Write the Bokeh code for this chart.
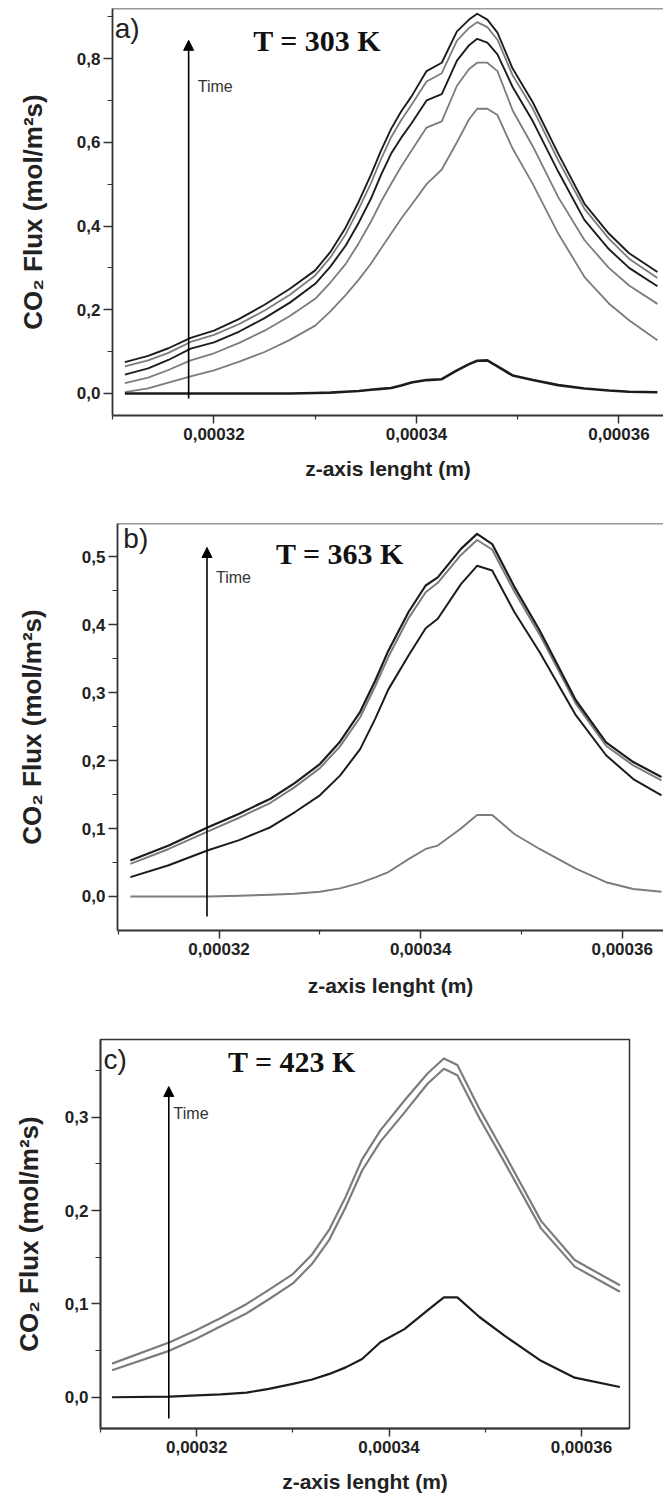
from bokeh.plotting import figure
from bokeh.models import FixedTicker, CustomJSTickFormatter, Range1d, Label, Arrow, NormalHead, Span
from bokeh.embed import file_html
from bokeh.resources import INLINE

# ---------------- data ----------------
# panel a, T = 303 K
A_Z = [3.112e-4, 3.135e-4, 3.155e-4, 3.177e-4, 3.200e-4, 3.225e-4, 3.250e-4, 3.275e-4,
       3.300e-4, 3.315e-4, 3.330e-4, 3.343e-4, 3.355e-4, 3.365e-4, 3.375e-4, 3.385e-4,
       3.395e-4, 3.410e-4, 3.425e-4, 3.440e-4, 3.452e-4, 3.460e-4, 3.470e-4, 3.480e-4,
       3.495e-4, 3.515e-4, 3.540e-4, 3.566e-4, 3.590e-4, 3.610e-4, 3.638e-4]
A_FLUX_1 = [0.075, 0.090, 0.108, 0.133, 0.150, 0.178, 0.212, 0.250, 0.294, 0.338, 0.396, 0.458,
            0.522, 0.580, 0.632, 0.674, 0.709, 0.770, 0.790, 0.865, 0.893, 0.907, 0.893, 0.862,
            0.776, 0.695, 0.573, 0.453, 0.382, 0.335, 0.290]
A_FLUX_2 = [0.065, 0.079, 0.097, 0.123, 0.140, 0.166, 0.198, 0.236, 0.282, 0.325, 0.380, 0.441,
            0.502, 0.560, 0.612, 0.653, 0.689, 0.745, 0.765, 0.843, 0.873, 0.887, 0.875, 0.845,
            0.760, 0.680, 0.557, 0.441, 0.370, 0.322, 0.276]
A_FLUX_3 = [0.045, 0.060, 0.080, 0.107, 0.122, 0.148, 0.180, 0.217, 0.262, 0.303, 0.353, 0.408,
            0.465, 0.522, 0.573, 0.611, 0.645, 0.700, 0.715, 0.795, 0.832, 0.847, 0.838, 0.810,
            0.732, 0.650, 0.530, 0.414, 0.345, 0.300, 0.256]
A_FLUX_4 = [0.025, 0.038, 0.056, 0.079, 0.096, 0.121, 0.150, 0.185, 0.226, 0.265, 0.309, 0.359,
            0.410, 0.458, 0.501, 0.542, 0.580, 0.635, 0.650, 0.735, 0.775, 0.790, 0.790, 0.770,
            0.676, 0.590, 0.469, 0.366, 0.300, 0.258, 0.214]
A_FLUX_5 = [0.003, 0.012, 0.026, 0.041, 0.055, 0.076, 0.099, 0.128, 0.162, 0.196, 0.235, 0.272,
            0.310, 0.346, 0.382, 0.418, 0.450, 0.500, 0.535, 0.600, 0.655, 0.680, 0.680, 0.665,
            0.585, 0.500, 0.382, 0.278, 0.215, 0.175, 0.127]
A_FLUX_6 = [0.0, 0.0, 0.0, 0.0, 0.0, 0.0, 0.0, 0.0, 0.001, 0.002, 0.004, 0.006,
            0.009, 0.011, 0.013, 0.019, 0.026, 0.032, 0.034, 0.055, 0.070, 0.078, 0.079, 0.065,
            0.043, 0.032, 0.020, 0.012, 0.007, 0.004, 0.003]

# panel b, T = 363 K
B_Z = [3.112e-4, 3.150e-4, 3.189e-4, 3.220e-4, 3.251e-4, 3.275e-4, 3.300e-4, 3.320e-4,
       3.340e-4, 3.355e-4, 3.368e-4, 3.388e-4, 3.405e-4, 3.417e-4, 3.440e-4, 3.456e-4,
       3.471e-4, 3.493e-4, 3.518e-4, 3.554e-4, 3.584e-4, 3.611e-4, 3.639e-4]
B_FLUX_1 = [0.053, 0.075, 0.102, 0.122, 0.144, 0.167, 0.195, 0.228, 0.272, 0.318, 0.362, 0.419,
            0.458, 0.470, 0.512, 0.534, 0.519, 0.456, 0.392, 0.289, 0.227, 0.198, 0.176]
B_FLUX_2 = [0.048, 0.070, 0.096, 0.116, 0.138, 0.161, 0.189, 0.221, 0.264, 0.310, 0.353, 0.410,
            0.448, 0.462, 0.503, 0.525, 0.511, 0.449, 0.386, 0.284, 0.222, 0.193, 0.171]
B_FLUX_3 = [0.0285, 0.046, 0.068, 0.083, 0.102, 0.124, 0.149, 0.178, 0.217, 0.262, 0.305, 0.355,
            0.395, 0.409, 0.460, 0.487, 0.480, 0.419, 0.360, 0.267, 0.208, 0.173, 0.149]
B_FLUX_4 = [0.0, 0.0, 0.0, 0.001, 0.0025, 0.004, 0.007, 0.012, 0.020, 0.028, 0.036, 0.055,
            0.070, 0.075, 0.100, 0.120, 0.120, 0.092, 0.070, 0.041, 0.021, 0.011, 0.007]

# panel c, T = 423 K
C_Z = [3.112e-4, 3.172e-4, 3.200e-4, 3.225e-4, 3.252e-4, 3.275e-4, 3.300e-4, 3.320e-4,
       3.338e-4, 3.355e-4, 3.372e-4, 3.391e-4, 3.416e-4, 3.440e-4, 3.457e-4, 3.471e-4,
       3.494e-4, 3.520e-4, 3.558e-4, 3.593e-4, 3.640e-4]
C_FLUX_1 = [0.036, 0.059, 0.072, 0.085, 0.100, 0.115, 0.132, 0.153, 0.180, 0.215, 0.255, 0.286,
            0.318, 0.347, 0.363, 0.356, 0.309, 0.261, 0.189, 0.147, 0.120]
C_FLUX_2 = [0.029, 0.050, 0.063, 0.076, 0.090, 0.105, 0.122, 0.143, 0.169, 0.204, 0.243, 0.274,
            0.305, 0.336, 0.352, 0.345, 0.299, 0.252, 0.181, 0.140, 0.113]
C_FLUX_3 = [0.0, 0.0007, 0.002, 0.003, 0.005, 0.009, 0.0143, 0.019, 0.025, 0.032, 0.041, 0.059,
            0.073, 0.093, 0.107, 0.107, 0.086, 0.066, 0.039, 0.021, 0.011]

X_TICKS = [0.00032, 0.00034, 0.00036]
X_MINOR = [0.00031, 0.00033, 0.00035]
A_YTICKS = [0.0, 0.2, 0.4, 0.6, 0.8]
A_YMINOR = [0.1, 0.3, 0.5, 0.7, 0.9]
B_YTICKS = [0.0, 0.1, 0.2, 0.3, 0.4, 0.5]
B_YMINOR = [0.05, 0.15, 0.25, 0.35, 0.45]
C_YTICKS = [0.0, 0.1, 0.2, 0.3]
C_YMINOR = [0.05, 0.15, 0.25, 0.35]

TITLES = ["T = 303 K", "T = 363 K", "T = 423 K"]
LETTERS = ["a)", "b)", "c)"]
X_LABEL = "z-axis lenght (m)"
Y_LABEL = "CO\u2082 Flux (mol/m\u00b2s)"

BLACK = "#1c1c1c"
GREY = "#7c7c7c"
AXC = "#333333"
SANS = "Liberation Sans"
SERIF = "Liberation Serif"
WIDTH = 663


def make_panel(height, borders, xr, yr, yticks, yminor, box, ylab_standoff, xlab_standoff):
    left, right, top, bottom = borders
    p = figure(width=WIDTH, height=height, output_backend="svg", toolbar_location=None,
               x_range=Range1d(*xr), y_range=Range1d(*yr),
               min_border_left=left, min_border_right=right,
               min_border_top=top, min_border_bottom=bottom)
    p.xgrid.visible = False
    p.ygrid.visible = False
    p.background_fill_color = "white"
    p.border_fill_color = "white"
    if box:
        p.outline_line_color = AXC
        p.outline_line_width = 1.5
    else:
        p.outline_line_color = None
        p.add_layout(Span(location=yr[1], dimension="width", line_color=AXC, line_width=1.5))
    for ax in (p.xaxis[0], p.yaxis[0]):
        ax.axis_line_color = AXC
        ax.axis_line_width = 1.8
        ax.major_tick_line_color = AXC
        ax.minor_tick_line_color = AXC
        ax.major_tick_line_width = 1.5
        ax.minor_tick_line_width = 1.2
        ax.major_tick_in = 0
        ax.minor_tick_in = 0
        ax.major_label_text_font = SANS
        ax.major_label_text_font_style = "bold"
        ax.major_label_text_font_size = "17px"
        ax.major_label_text_color = "#222222"
        ax.axis_label_text_font = SANS
        ax.axis_label_text_font_style = "bold"
        ax.axis_label_text_color = "#222222"
    xa = p.xaxis[0]
    xa.ticker = FixedTicker(ticks=X_TICKS, minor_ticks=X_MINOR)
    xa.formatter = CustomJSTickFormatter(code="return tick.toFixed(5).replace('.', ',');")
    xa.major_tick_out = 8
    xa.minor_tick_out = 4
    xa.major_label_standoff = 4
    xa.axis_label = X_LABEL
    xa.axis_label_text_font_size = "21px"
    xa.axis_label_standoff = xlab_standoff
    ya = p.yaxis[0]
    ya.ticker = FixedTicker(ticks=yticks, minor_ticks=yminor)
    ya.formatter = CustomJSTickFormatter(code="return tick.toFixed(1).replace('.', ',');")
    ya.major_tick_out = 9
    ya.minor_tick_out = 5
    ya.major_label_standoff = 3
    ya.axis_label = Y_LABEL
    ya.axis_label_text_font_size = "26px"
    ya.axis_label_standoff = ylab_standoff
    return p


def decorate(p, idx, letter_xy, title_xy, arrow, time_xy):
    p.add_layout(Label(x=letter_xy[0], y=letter_xy[1], text=LETTERS[idx], text_font=SANS,
                       text_font_size="28px", text_color="#222222",
                       text_align="left", text_baseline="middle"))
    p.add_layout(Label(x=title_xy[0], y=title_xy[1], text=TITLES[idx], text_font=SERIF,
                       text_font_style="bold", text_font_size="30px", text_color="#111111",
                       text_align="center", text_baseline="middle"))
    p.add_layout(Arrow(end=NormalHead(size=10, fill_color="black", line_color="black", line_width=1),
                       x_start=arrow[0], y_start=arrow[1], x_end=arrow[0], y_end=arrow[2],
                       line_color="black", line_width=1.6))
    p.add_layout(Label(x=time_xy[0], y=time_xy[1], text="Time", text_font=SANS,
                       text_font_size="16px", text_color="#333333",
                       text_align="left", text_baseline="middle"))


# panel a
pa = make_panel(498, (112, 0, 8, 83), (0.00030998, 0.0003644), (-0.0526, 0.9195),
                A_YTICKS, A_YMINOR, False, 26, 14)
for ys, col, w in [(A_FLUX_5, GREY, 1.8), (A_FLUX_4, GREY, 1.8), (A_FLUX_3, BLACK, 1.9),
                   (A_FLUX_2, GREY, 1.8), (A_FLUX_1, BLACK, 1.9), (A_FLUX_6, BLACK, 2.6)]:
    pa.line(A_Z, ys, line_color=col, line_width=w, line_join="round")
decorate(pa, 0, (0.0003102, 0.872), (0.0003302, 0.8435), (0.0003175, -0.012, 0.8435),
         (0.0003184, 0.7336))

# panel b
pb = make_panel(510, (117, 0, 25, 78), (0.00030992, 0.0003641), (-0.0501, 0.5493),
                B_YTICKS, B_YMINOR, False, 32, 16)
for ys, col, w in [(B_FLUX_4, GREY, 1.9), (B_FLUX_3, BLACK, 2.0), (B_FLUX_2, GREY, 2.0),
                   (B_FLUX_1, BLACK, 2.2)]:
    pb.line(B_Z, ys, line_color=col, line_width=w, line_join="round")
decorate(pb, 1, (0.0003105, 0.527), (0.0003320, 0.505), (0.0003188, -0.0295, 0.514),
         (0.0003197, 0.470))

# panel c
pc = make_panel(493, (100, 34, 31, 73), (0.0003100, 0.000365), (-0.0335, 0.3834),
                C_YTICKS, C_YMINOR, True, 18, 14)
for ys, col, w in [(C_FLUX_2, GREY, 2.2), (C_FLUX_1, GREY, 2.2), (C_FLUX_3, BLACK, 2.2)]:
    pc.line(C_Z, ys, line_color=col, line_width=w, line_join="round")
decorate(pc, 2, (0.0003103, 0.362), (0.0003299, 0.3598), (0.0003171, -0.0228, 0.333),
         (0.0003176, 0.304))

open("out.html", "w").write(file_html([pa, pb, pc], INLINE))
